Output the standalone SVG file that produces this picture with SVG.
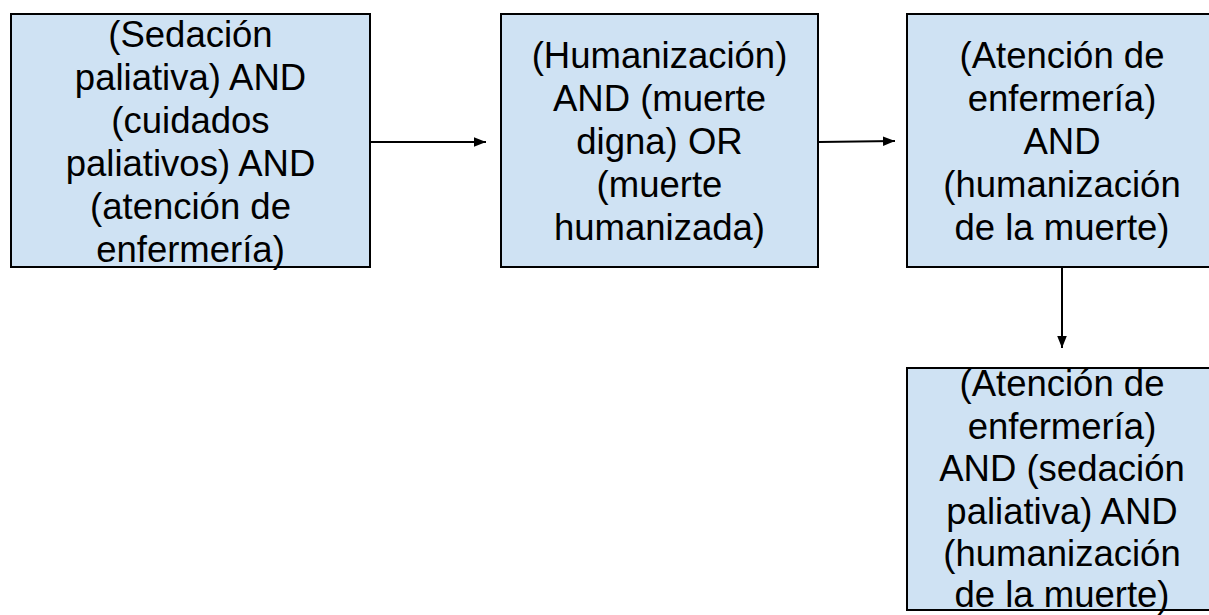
<svg xmlns="http://www.w3.org/2000/svg" width="1209" height="615" viewBox="0 0 1209 615">
<defs>
<style>
.box{fill:#cfe2f3;stroke:#000;stroke-width:2}
.t{font-family:"Liberation Sans",Arial,sans-serif;font-size:36.5px;fill:#000;text-anchor:middle}
.c{stroke:#000;stroke-width:2;fill:none}
</style>
<marker id="ah" viewBox="0 0 10 10" refX="10" refY="5" markerWidth="6" markerHeight="6" markerUnits="strokeWidth" orient="auto">
<path d="M0,1 L10,5 L0,9 Z" fill="#000"/>
</marker>
</defs>
<rect width="1209" height="615" fill="#fff"/>
<g id="connectors">
<line class="c" x1="371" y1="142" x2="486" y2="142" marker-end="url(#ah)"/>
<line class="c" x1="819" y1="142" x2="895" y2="141" marker-end="url(#ah)"/>
<line class="c" x1="1062" y1="268" x2="1062" y2="348" marker-end="url(#ah)"/>
</g>
<g id="node1">
<rect class="box" x="11" y="14" width="359" height="253"/>
<text class="t"><tspan x="190.5" y="46.5">(Sedación</tspan><tspan x="190.5" y="89.5">paliativa) AND</tspan><tspan x="190.5" y="132.5">(cuidados</tspan><tspan x="190.5" y="175.5">paliativos) AND</tspan><tspan x="190.5" y="218.5">(atención de</tspan><tspan x="190.5" y="261.5">enfermería)</tspan></text>
</g>
<g id="node2">
<rect class="box" x="501" y="14" width="317" height="253"/>
<text class="t"><tspan x="659.5" y="68">(Humanización)</tspan><tspan x="659.5" y="111">AND (muerte</tspan><tspan x="659.5" y="154">digna) OR</tspan><tspan x="659.5" y="197">(muerte</tspan><tspan x="659.5" y="240">humanizada)</tspan></text>
</g>
<g id="node3">
<rect class="box" x="907" y="14" width="310" height="253"/>
<text class="t"><tspan x="1062" y="68">(Atención de</tspan><tspan x="1062" y="111">enfermería)</tspan><tspan x="1062" y="154">AND</tspan><tspan x="1062" y="197">(humanización</tspan><tspan x="1062" y="240">de la muerte)</tspan></text>
</g>
<g id="node4">
<rect class="box" x="907" y="368" width="310" height="242"/>
<text class="t"><tspan x="1062" y="396">(Atención de</tspan><tspan x="1062" y="438.5">enfermería)</tspan><tspan x="1062" y="481">AND (sedación</tspan><tspan x="1062" y="523.5">paliativa) AND</tspan><tspan x="1062" y="566">(humanización</tspan><tspan x="1062" y="607">de la muerte)</tspan></text>
</g>
</svg>
